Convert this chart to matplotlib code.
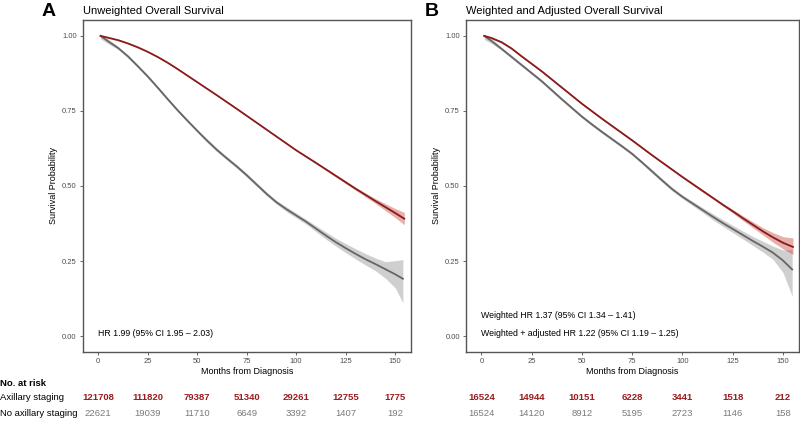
import matplotlib
matplotlib.use("Agg")
import matplotlib.pyplot as plt
import matplotlib.transforms as mtrans
import numpy as np

plt.rcParams['font.family'] = ['Liberation Sans', 'DejaVu Sans']

# ---- data ----
# Panel A: unweighted (months, survival, 95% CI half-widths below / above)
a_red_t = [1.2, 5, 10, 15, 20, 25, 30, 35, 40, 45, 50, 60, 70, 80, 90, 100, 110, 120, 130, 140, 150, 154.6]
a_red_s = [1.0, 0.994, 0.986, 0.975, 0.962, 0.947, 0.930, 0.911, 0.890, 0.868, 0.846, 0.802, 0.757,
           0.711, 0.665, 0.619, 0.577, 0.534, 0.491, 0.450, 0.410, 0.391]
a_red_lw = [0.002] * 16 + [0.003, 0.004, 0.005, 0.008, 0.015, 0.020]
a_red_uw = [0.0] + [0.002] * 15 + [0.003, 0.004, 0.005, 0.008, 0.015, 0.021]

a_grey_t = [1.2, 5, 10, 15, 20, 25, 30, 35, 40, 45, 50, 55, 60, 65, 70, 75, 80, 85, 90, 95, 100,
            105, 110, 115, 120, 125, 130, 135, 140, 145, 150, 153.9]
a_grey_s = [1.0, 0.982, 0.960, 0.932, 0.899, 0.865, 0.828, 0.790, 0.753, 0.718, 0.684, 0.651, 0.620,
            0.592, 0.565, 0.536, 0.505, 0.474, 0.446, 0.423, 0.402, 0.381, 0.358, 0.335, 0.313, 0.293,
            0.274, 0.256, 0.240, 0.223, 0.206, 0.191]
a_grey_lw = [0.010, 0.008] + [0.005] * 9 + [0.006] * 8 + [0.008] * 3 + \
            [0.010, 0.012, 0.013, 0.015, 0.017, 0.019, 0.022, 0.030, 0.045, 0.080]
a_grey_uw = [0.0, 0.008] + [0.005] * 9 + [0.006] * 8 + [0.008] * 3 + \
            [0.010, 0.012, 0.013, 0.015, 0.017, 0.019, 0.020, 0.025, 0.045, 0.064]

# Panel B: weighted and adjusted
b_red_t = [1.4, 5, 10, 15, 20, 25, 30, 35, 40, 45, 50, 55, 60, 65, 70, 75, 80, 85, 90, 95, 100,
           105, 110, 115, 120, 125, 130, 135, 140, 145, 150, 155]
b_red_s = [1.0, 0.993, 0.979, 0.958, 0.932, 0.907, 0.882, 0.855, 0.828, 0.801, 0.774, 0.749, 0.724,
           0.700, 0.676, 0.652, 0.627, 0.602, 0.578, 0.554, 0.530, 0.507, 0.484, 0.461, 0.438, 0.416,
           0.393, 0.371, 0.349, 0.329, 0.311, 0.297]
b_red_lw = [0.003] * 21 + [0.004] * 4 + [0.006, 0.008, 0.010, 0.012, 0.016, 0.020, 0.025]
b_red_uw = [0.0] + [0.003] * 20 + [0.004] * 4 + [0.006, 0.008, 0.010, 0.012, 0.016, 0.020, 0.030]

b_grey_t = [1.4, 5, 10, 15, 20, 25, 30, 35, 40, 45, 50, 55, 60, 65, 70, 75, 80, 85, 90, 95, 100,
            105, 110, 115, 120, 125, 130, 135, 140, 145, 150, 154.6]
b_grey_s = [1.0, 0.983, 0.957, 0.930, 0.903, 0.876, 0.849, 0.819, 0.789, 0.760, 0.731, 0.705, 0.680,
            0.656, 0.632, 0.607, 0.578, 0.548, 0.518, 0.489, 0.464, 0.442, 0.420, 0.398, 0.377, 0.357,
            0.337, 0.317, 0.298, 0.278, 0.252, 0.222]
b_grey_lw = [0.012, 0.008] + [0.005] * 15 + [0.006] * 4 + \
            [0.007, 0.008, 0.010, 0.011, 0.012, 0.013, 0.015, 0.018, 0.022, 0.040, 0.089]
b_grey_uw = [0.0, 0.008] + [0.005] * 15 + [0.006] * 4 + \
            [0.007, 0.008, 0.010, 0.011, 0.012, 0.013, 0.015, 0.018, 0.022, 0.035, 0.066]

risk_times = [0, 25, 50, 75, 100, 125, 150]
a_risk_ax = [121708, 111820, 79387, 51340, 29261, 12755, 1775]
a_risk_no = [22621, 19039, 11710, 6649, 3392, 1407, 192]
b_risk_ax = [16524, 14944, 10151, 6228, 3441, 1518, 212]
b_risk_no = [16524, 14120, 8912, 5195, 2723, 1146, 158]

titles = ["Unweighted Overall Survival", "Weighted and Adjusted Overall Survival"]
letters = ["A", "B"]
hr_a = ["HR 1.99 (95% CI 1.95 \u2013 2.03)"]
hr_b = ["Weighted HR 1.37 (95% CI 1.34 \u2013 1.41)",
        "Weighted + adjusted HR 1.22 (95% CI 1.19 \u2013 1.25)"]

RED = '#8B1A1A'
RED_TXT = '#9B1C1F'
GREY = '#666666'
GREY_TXT = '#7a7a7a'

fig = plt.figure(figsize=(8, 4.24), dpi=100)
axA = fig.add_axes([83 / 800, 1 - 352 / 424, 328 / 800, 332 / 424])
axB = fig.add_axes([466 / 800, 1 - 352 / 424, 333 / 800, 332 / 424])

panels = [
    (axA, (a_red_t, a_red_s, a_red_lw, a_red_uw), (a_grey_t, a_grey_s, a_grey_lw, a_grey_uw),
     a_risk_ax, a_risk_no, hr_a),
    (axB, (b_red_t, b_red_s, b_red_lw, b_red_uw), (b_grey_t, b_grey_s, b_grey_lw, b_grey_uw),
     b_risk_ax, b_risk_no, hr_b),
]

for i, (ax, red, grey, r_ax, r_no, hrs) in enumerate(panels):
    for (t, s, lw_, uw_), col, bcol, ba in [(grey, GREY, '#b0b0b0', 0.6),
                                            (red, RED, '#c0392b', 0.4)]:
        s = np.array(s)
        ax.fill_between(t, s - np.array(lw_), s + np.array(uw_), color=bcol, alpha=ba, lw=0)
        ax.plot(t, s, color=col, lw=1.3, solid_joinstyle='round')

    ax.set_xlim(-7.7, 158)
    ax.set_ylim(-0.053, 1.053)
    ax.set_xticks(risk_times)
    ax.set_yticks([0, 0.25, 0.5, 0.75, 1.0])
    ax.set_yticklabels(['0.00', '0.25', '0.50', '0.75', '1.00'])
    ax.tick_params(labelsize=5.5, colors='#4d4d4d', length=2.5, width=0.6, pad=2)
    for sp in ax.spines.values():
        sp.set_color('#555555')
        sp.set_linewidth(1.0)
    ax.set_xlabel("Months from Diagnosis", fontsize=6.5, labelpad=1)
    ax.set_ylabel("Survival Probability", fontsize=6.5, labelpad=3)

    # HR annotations
    ys = [0.01] if len(hrs) == 1 else [0.069, 0.009]
    for txt, y in zip(hrs, ys):
        ax.text(0, y, txt, fontsize=6.3, ha='left', va='center', color='black')

    # title and panel letter
    pos = ax.get_position()
    fig.text(pos.x0, 1 - 11 / 424, titles[i], fontsize=8, ha='left', va='center')
    fig.text(pos.x0 - 41 / 800, 1 - 11 / 424, letters[i], fontsize=14, fontweight='bold',
             ha='left', va='center')

    # risk table
    tr = mtrans.blended_transform_factory(ax.transData, fig.transFigure)
    for t, n1, n2 in zip(risk_times, r_ax, r_no):
        ax.text(t, 1 - 398 / 424, str(n1), transform=tr, fontsize=6.8, fontweight='bold',
                color=RED_TXT, ha='center', va='center', clip_on=False)
        ax.text(t, 1 - 413 / 424, str(n2), transform=tr, fontsize=6.8,
                color=GREY_TXT, ha='center', va='center', clip_on=False)

fig.text(0.0, 1 - 383 / 424, "No. at risk", fontsize=6.8, fontweight='bold', ha='left', va='center')
fig.text(0.0, 1 - 398 / 424, "Axillary staging", fontsize=6.8, ha='left', va='center')
fig.text(0.0, 1 - 413 / 424, "No axillary staging", fontsize=6.8, ha='left', va='center')

fig.savefig("out.png", dpi=100)
